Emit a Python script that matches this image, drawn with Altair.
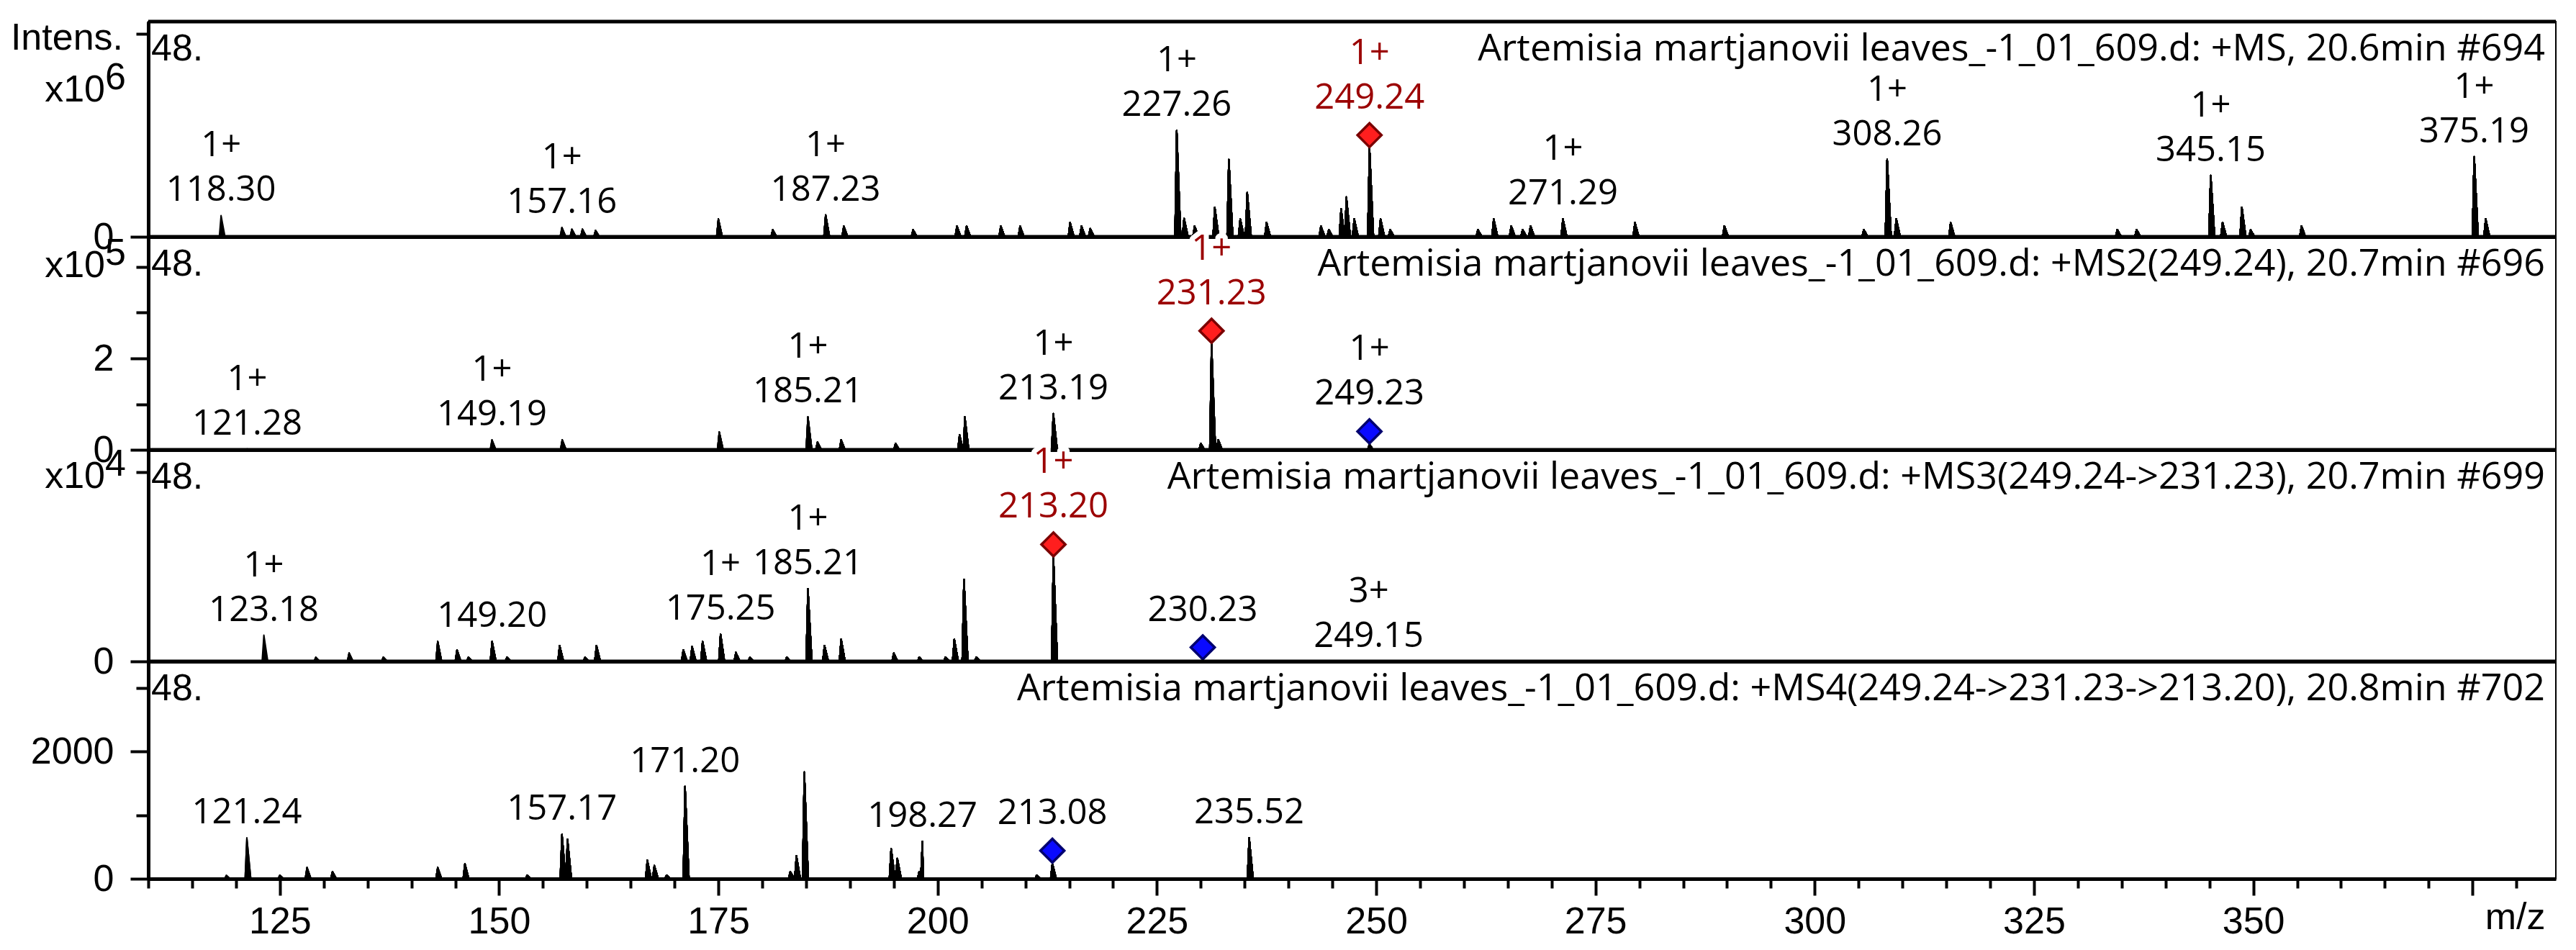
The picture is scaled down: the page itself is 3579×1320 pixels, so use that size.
import altair as alt
import pandas as pd

# ---------------- data ----------------
X_MIN, X_MAX = 110, 384.5
W = 3345

titles = [
    "Artemisia martjanovii leaves_-1_01_609.d: +MS, 20.6min #694",
    "Artemisia martjanovii leaves_-1_01_609.d: +MS2(249.24), 20.7min #696",
    "Artemisia martjanovii leaves_-1_01_609.d: +MS3(249.24->231.23), 20.7min #699",
    "Artemisia martjanovii leaves_-1_01_609.d: +MS4(249.24->231.23->213.20), 20.8min #702",
]

# MS1 (x10^6)
ms1_mz = [118.30, 157.16, 158.3, 159.5, 161.0, 175.0, 181.2, 187.23, 189.3, 197.2,
          202.2, 203.3, 207.2, 209.4, 215.1, 216.4, 217.4, 227.26, 228.1, 229.3,
          231.6, 233.2, 234.5, 235.3, 237.5, 243.7, 244.6, 246.0, 246.6, 247.5,
          249.24, 250.5, 251.6, 261.6, 263.4, 265.4, 266.7, 267.6, 271.29, 279.5,
          289.7, 305.6, 308.26, 309.3, 315.5, 334.5, 336.7, 345.15, 346.5, 348.7,
          349.7, 355.5, 375.19, 376.5]
ms1_int = [0.084, 0.037, 0.030, 0.030, 0.025, 0.070, 0.028, 0.086, 0.042, 0.028,
           0.042, 0.042, 0.042, 0.042, 0.056, 0.042, 0.032, 0.420, 0.072, 0.042,
           0.116, 0.305, 0.070, 0.174, 0.056, 0.042, 0.028, 0.110, 0.157, 0.070,
           0.350, 0.070, 0.028, 0.028, 0.070, 0.042, 0.028, 0.042, 0.070, 0.056,
           0.042, 0.028, 0.305, 0.070, 0.056, 0.028, 0.028, 0.242, 0.056, 0.116,
           0.028, 0.042, 0.316, 0.070]

# MS2 (x10^5)
ms2_mz = [121.28, 149.19, 157.2, 175.1, 185.21, 186.3, 189.0, 195.2, 202.5, 203.1,
          213.19, 230.0, 231.23, 232.0, 249.23]
ms2_int = [0.02, 0.22, 0.22, 0.39, 0.72, 0.17, 0.22, 0.14, 0.33, 0.72,
           0.79, 0.14, 2.32, 0.22, 0.12]

# MS3 (x10^4)
ms3_mz = [123.18, 129.1, 132.9, 136.8, 143.0, 145.2, 146.5, 149.20, 150.9, 156.9,
          159.8, 161.1, 171.0, 172.0, 173.2, 175.25, 177.0, 178.6, 182.8, 185.21,
          187.1, 189.0, 195.0, 197.9, 200.9, 201.9, 203.0, 204.4, 213.20, 230.23,
          249.15]
ms3_int = [0.25, 0.04, 0.08, 0.04, 0.19, 0.11, 0.04, 0.19, 0.04, 0.15,
           0.04, 0.15, 0.11, 0.14, 0.19, 0.26, 0.085, 0.04, 0.04, 0.69,
           0.15, 0.21, 0.08, 0.04, 0.04, 0.21, 0.78, 0.04, 0.99, 0.01,
           0.0]

# MS4 (counts)
ms4_mz = [118.9, 121.24, 125.0, 128.1, 131.0, 143.0, 146.1, 153.2, 157.17, 157.8,
          166.9, 167.7, 169.1, 171.20, 183.2, 183.9, 184.8, 194.7, 195.4, 197.9,
          198.27, 211.3, 213.08, 235.52]
ms4_int = [56, 640, 56, 177, 113, 177, 237, 56, 697, 620,
           290, 207, 56, 1450, 113, 358, 1676, 471, 320, 113,
           584, 56, 237, 640]

# peak labels (m/z) and charge states
ms1_lab_mz = [118.30, 157.16, 187.23, 227.26, 249.24, 271.29, 308.26, 345.15, 375.19]
ms1_lab_z = ["1+", "1+", "1+", "1+", "1+", "1+", "1+", "1+", "1+"]
ms2_lab_mz = [121.28, 149.19, 185.21, 213.19, 231.23, 249.23]
ms2_lab_z = ["1+", "1+", "1+", "1+", "1+", "1+"]
ms3_lab_mz = [123.18, 149.20, 175.25, 185.21, 213.20, 230.23, 249.15]
ms3_lab_z = ["1+", "", "1+", "1+", "1+", "", "3+"]
ms4_lab_mz = [121.24, 157.17, 171.20, 198.27, 213.08, 235.52]
ms4_lab_z = ["", "", "", "", "", ""]

# precursor (red) and isolated (blue) markers
ms1_red, ms1_blue = [249.24], []
ms2_red, ms2_blue = [231.23], [249.23]
ms3_red, ms3_blue = [213.20], [230.23]
ms4_red, ms4_blue = [], [213.08]

# y axes tick values
ms1_ticks = [0, 0.1, 0.2, 0.3, 0.4, 0.5, 0.6, 0.7, 0.8]
ms2_ticks = [0, 1, 2, 3, 4]
ms3_ticks = [0, 0.2, 0.4, 0.6, 0.8, 1.0, 1.2, 1.4, 1.6, 1.8]
ms4_ticks = [0, 1000, 2000, 3000]
x_ticks = list(range(110, 385, 5))

# ---------------- styling ----------------
LABEL_FONT = "Open Sans"
AXIS_FONT = "Liberation Sans"
RED_TXT = "#9B0000"
LFS = 49      # peak label font size
TFS = 52      # spectrum title font size
LH = 62       # distance between charge line and m/z line


def build_panel(mz, inten, lab_mz, lab_z, red, blue, title, height, ymax,
                yticks, ymajor, ylabeled, exp=None, x10_y=0, exp_y=0,
                show_x=False, intens=False):
    look = dict(zip(mz, inten))
    peaks = []
    for i, (m, h) in enumerate(zip(mz, inten)):
        peaks.append({"pid": i, "x": m - 0.2, "y": 0})
        peaks.append({"pid": i, "x": m, "y": h})
        peaks.append({"pid": i, "x": m + 0.45, "y": 0})
    peaks = pd.DataFrame(peaks)

    xscale = alt.Scale(domain=[X_MIN, X_MAX], nice=False, zero=False)
    if show_x:
        xaxis = alt.Axis(
            values=x_ticks, format="d",
            labelExpr="datum.value % 25 === 0 && datum.value !== 375 ? datum.label : ''",
            tickSize={"condition": {"test": "datum.value % 25 === 0", "value": 23}, "value": 13},
            tickWidth=4, domainWidth=5, labelPadding=11, labelFlush=False,
            labelFont=AXIS_FONT, labelFontSize=52,
            title="m/z", titleX=W - 15, titleY=69, titleAlign="right",
            titleBaseline="alphabetic", titleAngle=0, titleFont=AXIS_FONT,
            titleFontSize=52, titleFontWeight="normal", titleColor="black")
    else:
        xaxis = alt.Axis(labels=False, ticks=False, title=None, domainWidth=5)
    X = alt.X("x:Q", scale=xscale, axis=xaxis)

    yscale = alt.Scale(domain=[0, ymax], nice=False, zero=True)
    yaxis = alt.Axis(
        values=yticks, format="d", title=None,
        labelExpr=f"indexof({ylabeled}, datum.value) >= 0 ? datum.label : ''",
        tickSize={"condition": {"test": f"indexof({ymajor}, datum.value) >= 0", "value": 25},
                  "value": 17},
        tickWidth=4, domainWidth=5, labelPadding=23, labelFlush=False,
        labelFont=AXIS_FONT, labelFontSize=52)
    Y = alt.Y("y:Q", scale=yscale, axis=yaxis)

    layers = []
    layers.append(alt.Chart(peaks).mark_area(
        color="black", stroke="black", strokeWidth=2, strokeJoin="round",
        opacity=1).encode(x=X, y=Y, detail="pid:N"))

    layers.append(alt.Chart(alt.Data(values=[{"k": 1}])).mark_rule(
        color="black", strokeWidth=5).encode(
        x=alt.value(0), x2=alt.value(W), y=alt.value(0)))

    mk = [{"x": m, "y": look[m], "f": "#FF1E1E", "s": "#7A0000"} for m in red] + \
         [{"x": m, "y": look[m], "f": "#0A0AFF", "s": "#00006E"} for m in blue]
    layers.append(alt.Chart(pd.DataFrame(mk)).mark_point(
        shape="diamond", filled=True, size=1100, strokeWidth=3.5, yOffset=-18,
        opacity=1).encode(
        x=X, y=Y, fill=alt.Fill("f:N", scale=None), stroke=alt.Stroke("s:N", scale=None)))

    # label rows: one line for m/z, one line (above) for charge
    groups = {}
    for m, z in zip(lab_mz, lab_z):
        marked = (m in red) or (m in blue)
        dy = -45 if marked else -10
        col = RED_TXT if m in red else "black"
        groups.setdefault(dy, []).append({"x": m, "y": look[m], "t": f"{m:.2f}", "c": col})
        if z:
            groups.setdefault(dy - LH, []).append({"x": m, "y": look[m], "t": z, "c": col})

    for dy, rows in groups.items():
        base = alt.Chart(pd.DataFrame(rows)).encode(x=X, y=Y, text="t:N")
        layers.append(base.mark_text(
            baseline="bottom", dy=dy, font=LABEL_FONT, fontSize=LFS,
            fill="white", stroke="white", strokeWidth=14, strokeJoin="round"))
    for dy, rows in groups.items():
        base = alt.Chart(pd.DataFrame(rows)).encode(x=X, y=Y, text="t:N")
        layers.append(base.mark_text(
            baseline="bottom", dy=dy, font=LABEL_FONT, fontSize=LFS).encode(
            color=alt.Color("c:N", scale=None)))

    # spectrum title (top right) and compound number (top left)
    layers.append(alt.Chart(alt.Data(values=[{"t": title}])).mark_text(
        align="right", baseline="alphabetic", font=LABEL_FONT, fontSize=TFS,
        color="black").encode(text="t:N", x=alt.value(W - 15), y=alt.value(54)))
    layers.append(alt.Chart(alt.Data(values=[{"t": "48."}])).mark_text(
        align="left", baseline="alphabetic", font=AXIS_FONT, fontSize=52,
        color="black").encode(text="t:N", x=alt.value(4), y=alt.value(54)))

    if intens:
        layers.append(alt.Chart(alt.Data(values=[{"t": "Intens."}])).mark_text(
            align="right", baseline="alphabetic", font=AXIS_FONT, fontSize=52,
            color="black").encode(text="t:N", x=alt.value(-35), y=alt.value(39)))
    if exp:
        layers.append(alt.Chart(alt.Data(values=[{"t": "x10"}])).mark_text(
            align="right", baseline="alphabetic", font=AXIS_FONT, fontSize=52,
            color="black").encode(text="t:N", x=alt.value(-60), y=alt.value(x10_y)))
        layers.append(alt.Chart(alt.Data(values=[{"t": exp}])).mark_text(
            align="left", baseline="alphabetic", font=AXIS_FONT, fontSize=52,
            color="black").encode(text="t:N", x=alt.value(-60), y=alt.value(exp_y)))

    return alt.layer(*layers).properties(width=W, height=height)


p1 = build_panel(ms1_mz, ms1_int, ms1_lab_mz, ms1_lab_z, ms1_red, ms1_blue, titles[0],
                 299, 299 / 352, ms1_ticks, [0, 0.5], [0], exp="6",
                 x10_y=111, exp_y=94, intens=True)
p2 = build_panel(ms2_mz, ms2_int, ms2_lab_mz, ms2_lab_z, ms2_red, ms2_blue, titles[1],
                 296, 296 / 63.5, ms2_ticks, [0, 2], [0, 2], exp="5",
                 x10_y=56, exp_y=39)
p3 = build_panel(ms3_mz, ms3_int, ms3_lab_mz, ms3_lab_z, ms3_red, ms3_blue, titles[2],
                 294, 294 / 146, ms3_ticks, [0, 1], [0, 1], exp="4",
                 x10_y=53, exp_y=36)
p4 = build_panel(ms4_mz, ms4_int, ms4_lab_mz, ms4_lab_z, ms4_red, ms4_blue, titles[3],
                 302, 302 / 0.0885, ms4_ticks, [0, 2000], [0, 2000], show_x=True)

chart = alt.vconcat(p1, p2, p3, p4, spacing=0, bounds="flush").properties(
    padding={"left": 5, "top": 18, "right": 5, "bottom": 5},
    background="white",
).configure_view(stroke="black", strokeWidth=2).configure_axis(
    grid=False, domainColor="black", tickColor="black", labelColor="black")

chart.save("out.html", embed_options={"renderer": "svg", "actions": False})
